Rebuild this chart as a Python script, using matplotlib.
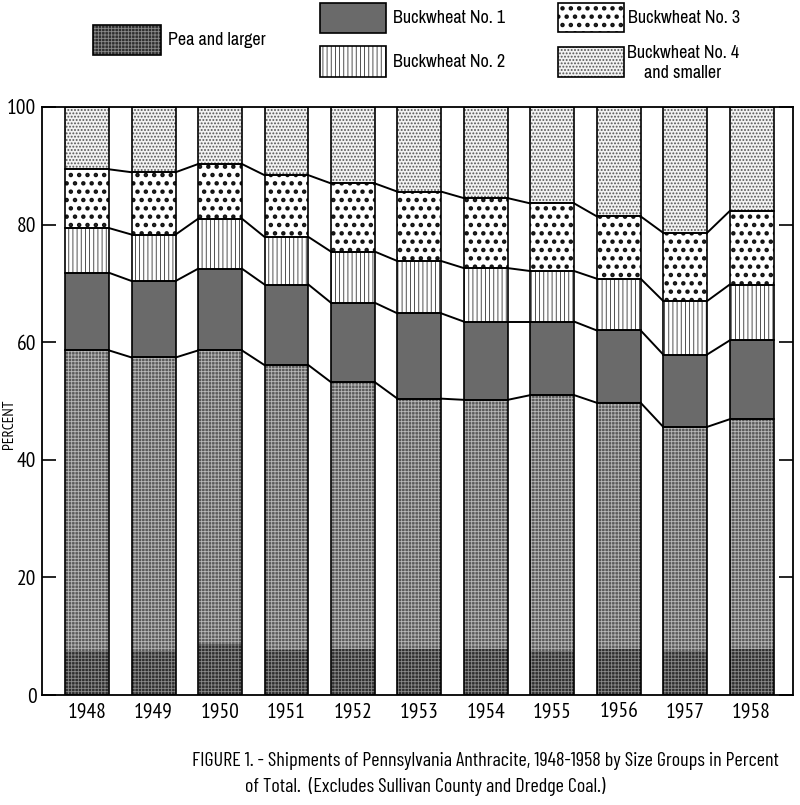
import matplotlib
matplotlib.use("Agg")
import matplotlib.pyplot as plt
from matplotlib.patches import Rectangle
import numpy as np

years = [1948, 1949, 1950, 1951, 1952, 1953, 1954, 1955, 1956, 1957, 1958]
pea = [58.6, 57.4, 58.6, 56.1, 53.2, 50.4, 50.2, 51.0, 49.7, 45.6, 46.9]
bw1 = [13.2, 13.0, 13.9, 13.7, 13.5, 14.5, 13.3, 12.5, 12.3, 12.3, 13.4]
bw2 = [7.6, 7.9, 8.5, 8.1, 8.7, 8.9, 9.1, 8.6, 8.8, 9.1, 9.5]
bw3 = [10.0, 10.6, 9.3, 10.5, 11.6, 11.8, 11.9, 11.5, 10.6, 11.6, 12.5]
bw4 = [10.6, 11.1, 9.7, 11.6, 13.0, 14.4, 15.5, 16.4, 18.6, 21.4, 17.7]
# darker printed band at the foot of the "pea" segment
dark_base = [7.5, 7.5, 8.7, 7.7, 7.8, 7.8, 7.8, 7.5, 7.8, 7.5, 7.8]

labels = ["Pea and larger", "Buckwheat No. 1", "Buckwheat No. 2",
          "Buckwheat No. 3", "Buckwheat No. 4\nand smaller"]

narrow = ["Archivo Narrow", "DejaVu Sans"]
tickfont = ["PT Sans Narrow", "DejaVu Sans"]
capfont = ["Barlow Condensed", "DejaVu Sans"]

# style per segment: facecolor, hatch, hatch colour, hatch linewidth
styles = [
    ("#5a5a5a", "+++++", "#b8b8b8", 0.6),
    ("#6a6a6a", "", "#6a6a6a", 0.5),
    ("white", "||||", "#333333", 0.6),
    ("white", "..", "#111111", 2.0),
    ("#f2f2f2", ".....", "#555555", 0.9),
]
dark_style = ("#2e2e2e", "+++++", "#8a8a8a", 0.6)

fig = plt.figure(figsize=(8, 8.05), dpi=100)
ax = fig.add_axes([0.0525, 0.1366, 0.9385, 0.7305])

x = np.arange(len(years))
w = 0.66
series = [pea, bw1, bw2, bw3, bw4]
bottom = np.zeros(len(years))
tops = []
for vals, (fc, h, hc, hlw) in zip(series, styles):
    vals = np.array(vals)
    with plt.rc_context({"hatch.linewidth": hlw}):
        ax.bar(x, vals, w, bottom=bottom, color=fc, hatch=h,
               edgecolor=hc, linewidth=0, zorder=2)
    ax.bar(x, vals, w, bottom=bottom, fill=False, edgecolor="black",
           linewidth=1.2, zorder=3)
    bottom = bottom + vals
    tops.append(bottom.copy())

fc, h, hc, hlw = dark_style
with plt.rc_context({"hatch.linewidth": hlw}):
    ax.bar(x, dark_base, w, color=fc, hatch=h, edgecolor=hc,
           linewidth=0, zorder=2.5)

# connecting lines between bars
for t in tops[:-1]:
    for i in range(len(years) - 1):
        ax.plot([x[i] + w / 2, x[i + 1] - w / 2], [t[i], t[i + 1]],
                color="black", lw=1.4, zorder=3)

ax.set_xlim(-0.68, len(years) - 1 + 0.62)
ax.set_ylim(0, 100)
ax.set_yticks([0, 20, 40, 60, 80, 100])
ax.set_xticks(x)
ax.set_xticklabels([str(y) for y in years], family=tickfont, fontsize=15.5)
for lbl in ax.get_yticklabels():
    lbl.set_family(tickfont)
    lbl.set_fontsize(15.5)
ax.tick_params(axis="y", direction="in", length=10, width=1.2,
               right=True, pad=4)
ax.tick_params(axis="x", length=0, pad=5)
for s in ax.spines.values():
    s.set_linewidth(1.3)
fig.text(9 / 800, 1 - 424 / 805, "PERCENT", rotation=90, ha="center", va="center",
         fontsize=11, family=tickfont)

# legend drawn in figure coordinates
fw, fh = 800.0, 805.0
legend_pos = [(93, 25, 68, 30), (320, 3, 66, 30), (320, 46, 66, 31),
              (558, 3, 66, 29), (558, 47, 66, 30)]
text_pos = [(168, 40), (393, 18), (393, 62), (628, 18), (628, 52)]
sty = [dark_style] + styles[1:]
for (px, py, pw, ph), (fc, h, hc, hlw) in zip(legend_pos, sty):
    r = (px / fw, 1 - (py + ph) / fh, pw / fw, ph / fh)
    with plt.rc_context({"hatch.linewidth": hlw}):
        fig.patches.append(Rectangle(r[:2], r[2], r[3], transform=fig.transFigure,
                                     facecolor=fc, hatch=h, edgecolor=hc, linewidth=0))
    fig.patches.append(Rectangle(r[:2], r[2], r[3], transform=fig.transFigure,
                                 fill=False, edgecolor="black", linewidth=1.2))
for (tx, ty), lab in zip(text_pos, labels):
    if "\n" in lab:
        fig.text(683 / fw, 1 - 63 / fh, lab, ha="center", va="center",
                 family=narrow, fontsize=13, linespacing=1.35)
    else:
        fig.text(tx / fw, 1 - ty / fh, lab, ha="left", va="center",
                 family=narrow, fontsize=13)

fig.text(192 / fw, 1 - 761 / fh,
         "FIGURE 1. - Shipments of Pennsylvania Anthracite, 1948-1958 by Size Groups in Percent",
         ha="left", va="center", family=capfont, fontsize=14.5)
fig.text(245 / fw, 1 - 786 / fh,
         "of Total.  (Excludes Sullivan County and Dredge Coal.)",
         ha="left", va="center", family=capfont, fontsize=14.5)

fig.savefig("out.png", dpi=100)
